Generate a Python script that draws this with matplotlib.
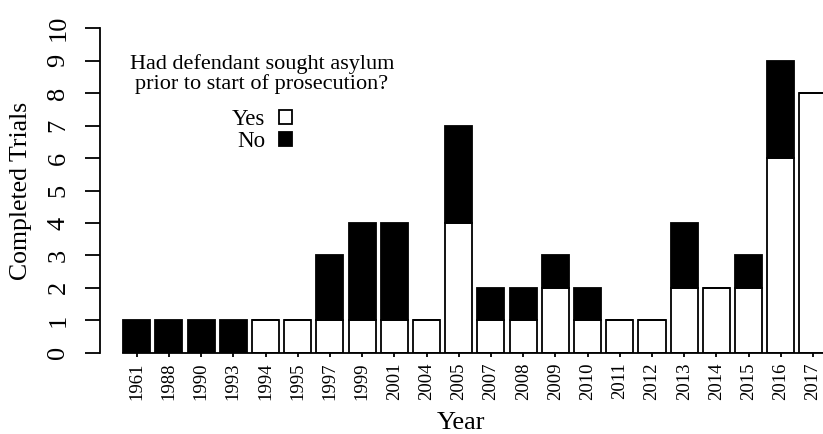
import numpy as np
import matplotlib.pyplot as plt
from matplotlib.patches import Patch

plt.rcParams['font.family'] = ['Liberation Serif', 'DejaVu Serif']

# completed trials per year, split by whether asylum had been sought
years = ['1961', '1988', '1990', '1993', '1994', '1995', '1997', '1999', '2001', '2004', '2005',
         '2007', '2008', '2009', '2010', '2011', '2012', '2013', '2014', '2015', '2016', '2017']
yes = [0, 0, 0, 0, 1, 1, 1, 1, 1, 1, 4, 1, 1, 2, 1, 1, 1, 2, 2, 2, 6, 8]
no = [1, 1, 1, 1, 0, 0, 2, 3, 3, 0, 3, 1, 1, 1, 1, 0, 0, 2, 0, 1, 3, 0]

fig = plt.figure(figsize=(8.23, 4.34), dpi=100)
ax = fig.add_axes([100/823, 1 - 352.7/434, 723/823, (352.7 - 28.3)/434])

x = np.arange(len(years))
w = 0.84
ax.bar(x, yes, width=w, color='white', edgecolor='black', linewidth=1.3)
ax.bar(x, no, width=w, bottom=yes, color='black', edgecolor='black', linewidth=1.3)

ax.set_xlim(-1.14, 21.31)
ax.set_ylim(0, 10)

for s in ['top', 'right']:
    ax.spines[s].set_visible(False)
ax.spines['left'].set_bounds(0, 10)
ax.spines['bottom'].set_bounds(-w/2, 22)
ax.spines['left'].set_linewidth(1.3)
ax.spines['bottom'].set_linewidth(1.3)

ax.set_yticks(range(11))
ax.set_yticklabels([str(v) for v in range(11)], rotation=90, va='center', fontsize=19)
ax.tick_params(axis='y', length=11, width=1.3, pad=11)

ax.set_xticks(x)
ax.set_xticklabels(years, rotation=90, fontsize=13.5)
ax.tick_params(axis='x', length=3, width=1.3, pad=4)

ax.set_ylabel('Completed Trials', fontsize=18.5, labelpad=11)
ax.set_xlabel('Year', fontsize=19, labelpad=9)

handles = [Patch(facecolor='white', edgecolor='black', linewidth=1.3),
           Patch(facecolor='black', edgecolor='black', linewidth=1.3)]
leg = fig.legend(handles, ['Yes', 'No'], title='Had defendant sought asylum\nprior to start of prosecution?',
                 loc='upper center', bbox_to_anchor=(262/823, 1 - 43/434), frameon=False,
                 markerfirst=False, fontsize=16.5, title_fontsize=16, handlelength=0.55,
                 handleheight=0.55, handletextpad=0.6, labelspacing=0.05, borderpad=0)
leg.get_title().set_multialignment('center')
leg.get_title().set_linespacing(0.95)
leg._legend_box.sep = 11

fig.savefig('out.png', dpi=100)
